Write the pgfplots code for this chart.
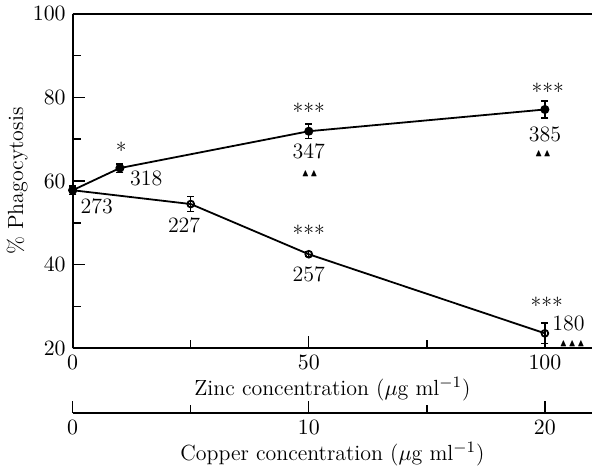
\documentclass[border=0pt]{standalone}
\usepackage{pgfplots}
\pgfplotsset{compat=1.18}
\usepackage{pgfplotstable}
\usepackage{amssymb}

\pgfplotstableread{
zn  y     e
0   57.8  1.0
10  63.1  1.0
50  71.9  1.7
100 77.1  2.0
}\zinc
\pgfplotstableread{
cu  y     e
0   57.8  1.0
5   54.5  1.8
10  42.5  0.6
20  23.6  2.5
}\copper

\begin{document}
\begin{tikzpicture}[font=\fontsize{11}{13}\selectfont]
\begin{axis}[
  name=main,
  scale only axis, width=260.7pt, height=168pt,
  xmin=0, xmax=110, ymin=20, ymax=100,
  axis lines*=left,
  axis line style={line width=0.9pt},
  tick align=inside,
  xtick={0,50,100}, minor xtick={25,75},
  ytick={20,40,...,100}, minor ytick={30,50,70,90},
  major tick length=6pt, minor tick length=4pt,
  tick style={line width=0.7pt, black},
  xlabel={Zinc concentration ($\mu$g ml$^{-1}$)},
  ylabel={\% Phagocytosis},
  xlabel style={at={(axis description cs:0.5,0)}, anchor=center, yshift=-20.5pt},
  ylabel style={at={(axis description cs:-0.107,0.5)}, anchor=center},
  clip=false,
]
\draw[line width=0.9pt] (rel axis cs:0,1) -- (rel axis cs:1,1);

\addplot[black, line width=0.9pt, mark=*, mark size=1.8pt,
  error bars/.cd, y dir=both, y explicit,
  error bar style={line width=0.7pt},
  error mark options={rotate=90, mark size=1.8pt, line width=0.7pt}]
  table[x=zn, y=y, y error=e] {\zinc};

\addplot[black, line width=0.9pt, mark=o, mark size=1.7pt,
  mark options={fill=white},
  error bars/.cd, y dir=both, y explicit,
  error bar style={line width=0.7pt},
  error mark options={rotate=90, mark size=1.8pt, line width=0.7pt}]
  table[x expr=\thisrow{cu}*5, y=y, y error=e] {\copper};

% annotations
\begin{scope}[every node/.style={inner sep=1pt}]
\node at (axis cs:5.1,54) {273};
\node at (axis cs:15.6,60.5) {318};
\node at (axis cs:10.3,67.4) {*};
\node at (axis cs:23.6,49.3) {227};
\node at (axis cs:50,76.6) {***};
\node at (axis cs:50,67.1) {347};
\node at (axis cs:50.2,61.8) {\tiny$\blacktriangle\blacktriangle$};
\node at (axis cs:100.6,81.4) {***};
\node at (axis cs:100,71.1) {385};
\node at (axis cs:99.6,66.5) {\tiny$\blacktriangle\blacktriangle$};
\node at (axis cs:50,47.6) {***};
\node at (axis cs:50,37.8) {257};
\node at (axis cs:100.4,30.2) {***};
\node at (axis cs:105,25.9) {180};
\node at (axis cs:105.8,21.1) {\tiny$\blacktriangle\blacktriangle\blacktriangle$};
\end{scope}
\end{axis}

\begin{axis}[
  at={(main.south west)}, anchor=south west, yshift=-32.5pt,
  scale only axis, width=260.7pt, height=1pt,
  xmin=0, xmax=22, ymin=0, ymax=1,
  axis x line*=bottom, hide y axis,
  axis line style={line width=0.9pt},
  tick align=inside,
  xtick={0,10,20}, minor xtick={5,15},
  major tick length=6pt, minor tick length=4pt,
  tick style={line width=0.7pt, black},
  xlabel={Copper concentration ($\mu$g ml$^{-1}$)},
  xlabel style={at={(axis description cs:0.5,0)}, anchor=center, yshift=-20.5pt},
]
\addplot[draw=none] coordinates {(0,0)};
\end{axis}
\end{tikzpicture}
\end{document}
